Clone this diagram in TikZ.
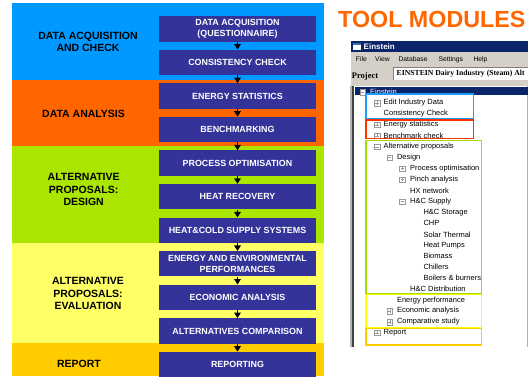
\documentclass[tikz,border=0pt]{standalone}
\usepackage{fontspec}
\setmainfont{Liberation Sans}
\newfontfamily\winserif{Liberation Serif}
\usetikzlibrary{arrows.meta,positioning}

\definecolor{bandblue}{HTML}{0099FF}
\definecolor{bandorange}{HTML}{FF6600}
\definecolor{bandgreen}{HTML}{AAE600}
\definecolor{bandyellow}{HTML}{FFFF66}
\definecolor{bandgold}{HTML}{FFCC00}
\definecolor{stageblue}{HTML}{333399}
\definecolor{winnavy}{HTML}{0A246A}
\definecolor{wingray}{HTML}{D4D0C8}
\definecolor{iconblue}{HTML}{3A6EA5}
\definecolor{frameblue}{HTML}{1E9BFF}
\definecolor{framered}{HTML}{FF3300}
\definecolor{framegreen}{HTML}{A0DD00}
\definecolor{frameyellow}{HTML}{FFFF00}
\definecolor{framegold}{HTML}{FFCC00}

\begin{document}
\begin{tikzpicture}[x=1pt, y=-1pt, node distance=7.87pt,
  stage/.style={fill=stageblue, text=white, minimum width=157pt, minimum height=25.3pt, inner sep=0pt, align=center, font=\fontsize{8.9}{11.7}\selectfont\bfseries},
  phase/.style={align=center, inner sep=0pt, font=\fontsize{10.5}{12.5}\selectfont\bfseries},
  flow/.style={-{Triangle[width=6.5pt,length=5.5pt]}, line width=1.6pt},
  menu/.style={anchor=west, inner sep=0pt, font=\fontsize{6.8}{8}\selectfont},
  titem/.style={anchor=west, inner sep=0pt, font=\fontsize{7.5}{9}\selectfont},
  xbox/.style={draw=gray!80, fill=white, line width=0.4pt, minimum size=5.5pt, inner sep=0pt},
  xplus/.style={xbox, path picture={\draw[line width=0.5pt] ([xshift=1.2pt]path picture bounding box.west) -- ([xshift=-1.2pt]path picture bounding box.east) ([yshift=1.2pt]path picture bounding box.south) -- ([yshift=-1.2pt]path picture bounding box.north);}},
  xminus/.style={xbox, path picture={\draw[line width=0.5pt] ([xshift=1.2pt]path picture bounding box.west) -- ([xshift=-1.2pt]path picture bounding box.east);}}]
\useasboundingbox (0,0) rectangle (528,376);

% phase bands
\fill[bandblue] (12,3.3) rectangle (324,80);
\fill[bandorange] (12,80) rectangle (324,145.7);
\fill[bandgreen] (12,145.7) rectangle (324,242.7);
\fill[bandyellow] (12,242.7) rectangle (324,343.3);
\fill[bandgold] (12,343.3) rectangle (324,376);

\node[phase] (P1) at (88,41.7) {DATA ACQUISITION\\AND CHECK};
\node[phase] (P2) at (83.5,114.3) {DATA ANALYSIS};
\node[phase] (P3) at (83.7,189.7) {ALTERNATIVE\\PROPOSALS:\\DESIGN};
\node[phase] (P4) at (88,293.7) {ALTERNATIVE\\PROPOSALS:\\EVALUATION};
\node[phase] (P5) at (79,364) {REPORT};

% stages
\node[stage] (B1) at (237.5,28.85) {DATA ACQUISITION\\(QUESTIONNAIRE)};
\node[stage, below=of B1] (B2) {CONSISTENCY CHECK};
\node[stage, below=of B2] (B3) {ENERGY STATISTICS};
\node[stage, below=of B3] (B4) {BENCHMARKING};
\node[stage, below=of B4] (B5) {PROCESS OPTIMISATION};
\node[stage, below=of B5] (B6) {HEAT RECOVERY};
\node[stage, below=of B6] (B7) {HEAT\&COLD SUPPLY SYSTEMS};
\node[stage, below=of B7] (B8) {ENERGY AND ENVIRONMENTAL\\PERFORMANCES};
\node[stage, below=of B8] (B9) {ECONOMIC ANALYSIS};
\node[stage, below=of B9] (B10) {ALTERNATIVES COMPARISON};
\node[stage, below=of B10] (B11) {REPORTING};

\path[flow] (B1) edge (B2)
            (B2) edge (B3)
            (B3) edge (B4)
            (B4) edge (B5)
            (B5) edge (B6)
            (B6) edge (B7)
            (B7) edge (B8)
            (B8) edge (B9)
            (B9) edge (B10)
            (B10) edge (B11);

% tool modules window
\node[anchor=west, inner sep=0pt, text=bandorange, font=\fontsize{23.3}{24}\selectfont\bfseries] (TM) at (338,19) {TOOL MODULES};

\fill[wingray] (351,41) rectangle (528,86);
\fill[winnavy] (351,41) rectangle (528,51.5);
\fill[white] (353,42.5) rectangle (361,50);
\fill[iconblue] (353,42.5) rectangle (361,44.5);
\node[anchor=west, inner sep=0pt, text=white, font=\fontsize{8}{9}\selectfont\bfseries] (W0) at (363.5,46.3) {Einstein};

\node[menu] (M1) at (355.7,59.3) {File};
\node[menu] (M2) at (375,59.3) {View};
\node[menu] (M3) at (398.3,59.3) {Database};
\node[menu] (M4) at (438.3,59.3) {Settings};
\node[menu] (M5) at (473.3,59.3) {Help};

\node[anchor=west, inner sep=0pt, font={\winserif\fontsize{8.5}{9}\selectfont\bfseries}] (PR) at (351.7,76.7) {Project};
\fill[white] (393.3,67.3) rectangle (528,79.8);
\draw[gray, line width=0.8pt] (393.3,79.8) -- (393.3,67.3) -- (528,67.3);
\node[anchor=west, inner sep=0pt, font={\winserif\fontsize{7.7}{9}\selectfont\bfseries}] (PN) at (396.5,73.6) {EINSTEIN Dairy Industry (Steam) Alt};

% tree panel
\fill[white] (353.7,86) rectangle (528,347);
\fill[gray!60] (350,86) rectangle (351.7,347);
\fill[darkgray] (351.7,86) rectangle (353.7,347);
\draw[gray!60] (527.3,86) -- (527.3,347);
\fill[winnavy] (355,86.7) rectangle (528,95);

\node[xminus] (X0) at (362.5,92) {};
\node[titem, text=white] (T0) at (370,91.5) {Einstein};
\node[xplus] (X1) at (377,103) {};
\node[titem] (T1) at (383.5,103) {Edit Industry Data};
\node[titem] (T2) at (383.5,113.9) {Consistency Check};
\node[xplus] (X3) at (377,124.9) {};
\node[titem] (T3) at (383.5,124.9) {Energy statistics};
\node[xplus] (X4) at (377,135.8) {};
\node[titem] (T4) at (383.5,135.8) {Benchmark check};
\node[xminus] (X5) at (377,146.8) {};
\node[titem] (T5) at (383.5,146.8) {Alternative proposals};
\node[xminus] (X6) at (389.8,157.7) {};
\node[titem] (T6) at (396.8,157.7) {Design};
\node[xplus] (X7) at (402.3,168.7) {};
\node[titem] (T7) at (410,168.7) {Process optimisation};
\node[xplus] (X8) at (402.3,179.6) {};
\node[titem] (T8) at (410,179.6) {Pinch analysis};
\node[titem] (T9) at (410,190.6) {HX network};
\node[xminus] (X10) at (402.3,201.5) {};
\node[titem] (T10) at (410,201.5) {H\&C Supply};
\node[titem] (T11) at (423.3,212.5) {H\&C Storage};
\node[titem] (T12) at (423.3,223.4) {CHP};
\node[titem] (T13) at (423.3,234.4) {Solar Thermal};
\node[titem] (T14) at (423.3,245.3) {Heat Pumps};
\node[titem] (T15) at (423.3,256.3) {Biomass};
\node[titem] (T16) at (423.3,267.2) {Chillers};
\node[titem] (T17) at (423.3,278.2) {Boilers \& burners};
\node[titem] (T18) at (410,289.1) {H\&C Distribution};
\node[titem] (T19) at (396.8,300.1) {Energy performance};
\node[xplus] (X20) at (389.8,311) {};
\node[titem] (T20) at (396.8,311) {Economic analysis};
\node[xplus] (X21) at (389.8,322) {};
\node[titem] (T21) at (396.8,322) {Comparative study};
\node[xplus] (X22) at (377,332.9) {};
\node[titem] (T22) at (383.5,332.9) {Report};

% module frames
\draw[frameblue, line width=1.5pt] (366,94) rectangle (473.3,118.5);
\draw[framered, line width=1.5pt] (366,120) rectangle (473.3,138.6);
\draw[framegreen, line width=1.5pt] (366,140.7) rectangle (481.7,293.5);
\draw[frameyellow, line width=1.5pt] (366,294.5) rectangle (481.7,327.5);
\draw[framegold, line width=1.5pt] (366,328.5) rectangle (481.7,345);
\end{tikzpicture}
\end{document}
